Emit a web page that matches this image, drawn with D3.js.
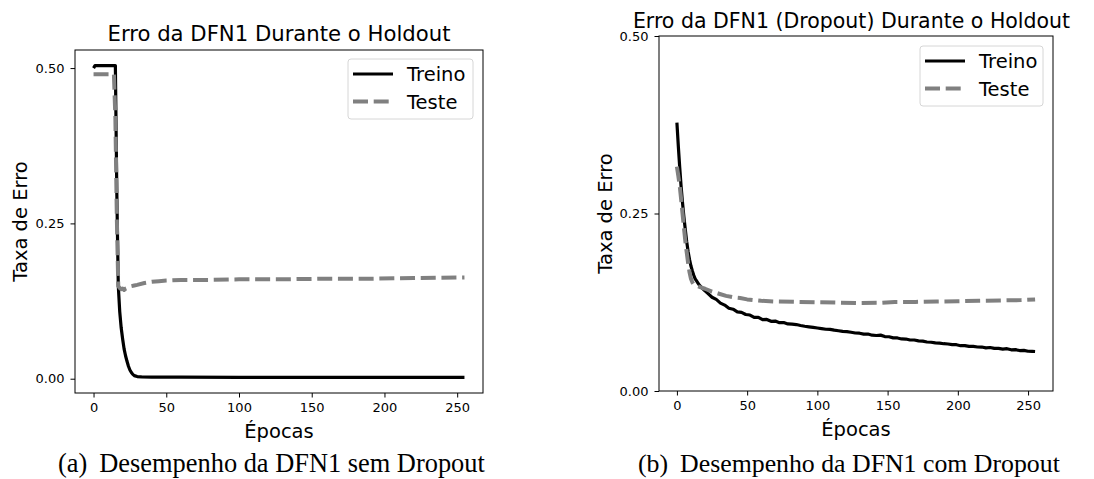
<!DOCTYPE html>
<html>
<head>
<meta charset="UTF-8">
<title>Erro da DFN1 Durante o Holdout</title>
<script src="https://d3js.org/d3.v7.min.js"></script>
<style>
  body { margin: 0; background: #fff; }
  svg { display: block; }
  .tick text { font-family: "DejaVu Sans", sans-serif; font-size: 13px; fill: #000; }
  .tick line { stroke: #000; stroke-width: 1; }
</style>
</head>
<body>
<div id="chart"></div>
<script>
// --- data ---
var xTicks = [0, 50, 100, 150, 200, 250];
var yTicks = [0, 0.25, 0.5];
var legendNames = ["Treino", "Teste"];

// (a) sem Dropout
var treinoA_ep = [0, 1, 15, 16, 17, 18, 19, 20, 21, 22, 23, 24, 25, 26, 27, 28, 30, 33, 40, 60, 100, 150, 200, 255];
var treinoA = [0.500, 0.504, 0.504, 0.300, 0.150, 0.108, 0.082, 0.064, 0.048, 0.037, 0.028, 0.020, 0.014, 0.010, 0.007, 0.005, 0.0035, 0.003, 0.0027, 0.0024, 0.0022, 0.0021, 0.0021, 0.0021];
var testeA_ep = [0, 14, 15, 16, 17, 18, 19, 20, 21, 22, 24, 26, 28, 30, 35, 40, 45, 50, 60, 80, 100, 130, 160, 190, 220, 255];
var testeA = [0.490, 0.490, 0.420, 0.260, 0.149, 0.146, 0.144, 0.145, 0.143, 0.145, 0.147, 0.149, 0.150, 0.151, 0.154, 0.156, 0.157, 0.158, 0.159, 0.159, 0.160, 0.160, 0.161, 0.161, 0.162, 0.163];

// (b) com Dropout
var treinoB_ep = [0, 1, 2, 3, 4, 5, 6, 7, 8, 9, 10, 11, 12, 13, 14, 15, 16, 18, 20,
  22, 25, 28, 31, 34, 37, 40, 43, 46, 49, 52, 55, 58, 61, 64, 67, 70, 73, 76, 79, 82, 85, 88, 91, 94, 97,
  100, 103, 106, 109, 112, 115, 118, 121, 124, 127, 130, 133, 136, 139, 142, 145, 148, 151, 154, 157,
  160, 163, 166, 169, 172, 175, 178, 181, 184, 187, 190, 193, 196, 199, 202, 205, 208, 211, 214, 217,
  220, 223, 226, 229, 232, 235, 238, 241, 244, 247, 250, 253, 255];
var treinoB = [0.378, 0.345, 0.315, 0.288, 0.265, 0.245, 0.227, 0.210, 0.196, 0.185, 0.176, 0.169, 0.163, 0.158, 0.155, 0.152, 0.149, 0.145, 0.141,
  0.1375, 0.1320, 0.1290, 0.1238, 0.1210, 0.1165, 0.1152, 0.1115, 0.1108, 0.1078, 0.1070, 0.1036, 0.1038, 0.1004, 0.1008, 0.0982, 0.0985, 0.0962, 0.0965, 0.0945, 0.0942, 0.0936, 0.0922, 0.0912, 0.0904, 0.0895,
  0.0887, 0.0879, 0.0870, 0.0868, 0.0857, 0.0849, 0.0840, 0.0837, 0.0828, 0.0817, 0.0814, 0.0802, 0.0802, 0.0786, 0.0782, 0.0787, 0.0767, 0.0764, 0.0748, 0.0747,
  0.0733, 0.0732, 0.0718, 0.0718, 0.0706, 0.0702, 0.0690, 0.0687, 0.0678, 0.0674, 0.0666, 0.0662, 0.0653, 0.0652, 0.0638, 0.0638, 0.0628, 0.0628, 0.0620, 0.0619,
  0.0608, 0.0613, 0.0600, 0.0600, 0.0590, 0.0596, 0.0580, 0.0582, 0.0570, 0.0572, 0.0560, 0.0558, 0.0556];
var testeB_ep = [0, 1, 2, 3, 4, 5, 6, 7, 8, 9, 10, 11, 12, 14, 17, 20, 25, 30, 35, 40, 45, 50, 60, 70, 85, 100, 115, 130, 145, 155, 170, 185, 200, 215, 230, 245, 255];
var testeB = [0.316, 0.303, 0.289, 0.270, 0.250, 0.230, 0.211, 0.195, 0.180, 0.167, 0.158, 0.153, 0.150, 0.148, 0.146, 0.144, 0.140, 0.137, 0.134, 0.132, 0.131, 0.129, 0.127, 0.126, 0.1255, 0.125, 0.1245, 0.124, 0.1243, 0.1255, 0.1255, 0.126, 0.1265, 0.127, 0.1275, 0.128, 0.129];

var W = 1094, H = 479;
var svg = d3.select("#chart").append("svg").attr("width", W).attr("height", H);

function zip(ep, v) { return ep.map(function(e, i) { return [e, v[i]]; }); }

function panel(cfg) {
  var x = d3.scaleLinear().domain([-12.75, 267.75]).range([cfg.left, cfg.right]);
  var y = d3.scaleLinear().domain(cfg.ydomain).range([cfg.bottom, cfg.top]);
  var g = svg.append("g");

  g.append("g")
    .attr("transform", "translate(0," + cfg.bottom + ")")
    .call(d3.axisBottom(x).tickValues(xTicks).tickFormat(d3.format("d")).tickSize(4.5).tickPadding(5))
    .call(function(a) { a.select(".domain").remove(); });
  g.append("g")
    .attr("transform", "translate(" + cfg.left + ",0)")
    .call(d3.axisLeft(y).tickValues(yTicks).tickFormat(d3.format(".2f")).tickSize(4.5).tickPadding(6))
    .call(function(a) { a.select(".domain").remove(); });

  var clipId = "clip" + cfg.id;
  g.append("clipPath").attr("id", clipId).append("rect")
    .attr("x", cfg.left).attr("y", cfg.top)
    .attr("width", cfg.right - cfg.left).attr("height", cfg.bottom - cfg.top);

  var line = d3.line().x(function(d) { return x(d[0]); }).y(function(d) { return y(d[1]); });

  g.append("path").datum(cfg.train)
    .attr("clip-path", "url(#" + clipId + ")")
    .attr("fill", "none").attr("stroke", "#000").attr("stroke-width", 3.2)
    .attr("stroke-linejoin", "round").attr("d", line);
  g.append("path").datum(cfg.test)
    .attr("clip-path", "url(#" + clipId + ")")
    .attr("fill", "none").attr("stroke", "#808080").attr("stroke-width", 4)
    .attr("stroke-dasharray", "15,5.7").attr("stroke-linejoin", "round").attr("d", line);

  // spines
  g.append("rect")
    .attr("x", cfg.left).attr("y", cfg.top)
    .attr("width", cfg.right - cfg.left).attr("height", cfg.bottom - cfg.top)
    .attr("fill", "none").attr("stroke", "#000").attr("stroke-width", 1);

  // title
  g.append("text").attr("x", cfg.titleX).attr("y", cfg.titleY)
    .attr("text-anchor", "middle")
    .style("font-family", "DejaVu Sans, sans-serif").style("font-size", cfg.titleSize + "px")
    .text(cfg.title);

  // axis labels
  g.append("text").attr("x", (cfg.left + cfg.right) / 2).attr("y", cfg.xlabelY)
    .attr("text-anchor", "middle")
    .style("font-family", "DejaVu Sans, sans-serif").style("font-size", "19.5px")
    .text("Épocas");
  g.append("text")
    .attr("transform", "translate(" + cfg.ylabelX + "," + (cfg.top + cfg.bottom) / 2 + ") rotate(-90)")
    .attr("text-anchor", "middle")
    .style("font-family", "DejaVu Sans, sans-serif").style("font-size", "19.5px")
    .text("Taxa de Erro");

  // legend
  var L = cfg.legend;
  var lg = g.append("g").attr("transform", "translate(" + L.x + "," + L.y + ")");
  lg.append("rect").attr("width", L.w).attr("height", L.h).attr("rx", 3)
    .attr("fill", "#fff").attr("fill-opacity", 0.8).attr("stroke", "#d6d6d6").attr("stroke-width", 1);
  legendNames.forEach(function(name, i) {
    var ly = 15 + i * 27.5;
    lg.append("line").attr("x1", 5).attr("x2", 45).attr("y1", ly).attr("y2", ly)
      .attr("stroke", i === 0 ? "#000" : "#808080")
      .attr("stroke-width", i === 0 ? 3.2 : 4)
      .attr("stroke-dasharray", i === 0 ? null : "15,5.7");
    lg.append("text").attr("x", 59).attr("y", ly + 7)
      .style("font-family", "DejaVu Sans, sans-serif").style("font-size", "19.5px")
      .text(name);
  });

  // caption
  var cap = svg.append("text").attr("x", cfg.capX).attr("y", 471.5)
    .style("font-family", "Liberation Serif, Times New Roman, serif").style("font-size", cfg.capSize + "px");
  cap.append("tspan").text(cfg.capTag);
  cap.append("tspan").attr("dx", 12).text(cfg.caption);
}

var extA = d3.extent(treinoA.concat(testeA));
var padA = (extA[1] - extA[0]) * 0.05;

panel({
  id: "a", left: 75, right: 483, top: 50, bottom: 393,
  ydomain: [extA[0] - padA, extA[1] + padA],
  train: zip(treinoA_ep, treinoA), test: zip(testeA_ep, testeA),
  title: "Erro da DFN1 Durante o Holdout", titleX: 279, titleY: 41, titleSize: 21.2,
  xlabelY: 438, ylabelX: 26.5,
  legend: { x: 348, y: 59, w: 125, h: 60 },
  capX: 58, capTag: "(a)", caption: "Desempenho da DFN1 sem Dropout", capSize: 26.4
});

panel({
  id: "b", left: 659, right: 1053, top: 36, bottom: 391,
  ydomain: [0, 0.5],
  train: zip(treinoB_ep, treinoB), test: zip(testeB_ep, testeB),
  title: "Erro da DFN1 (Dropout) Durante o Holdout", titleX: 851.5, titleY: 27.5, titleSize: 20.5,
  xlabelY: 436, ylabelX: 611.5,
  legend: { x: 920, y: 46, w: 123, h: 60 },
  capX: 638, capTag: "(b)", caption: "Desempenho da DFN1 com Dropout", capSize: 25.8
});
</script>
</body>
</html>
